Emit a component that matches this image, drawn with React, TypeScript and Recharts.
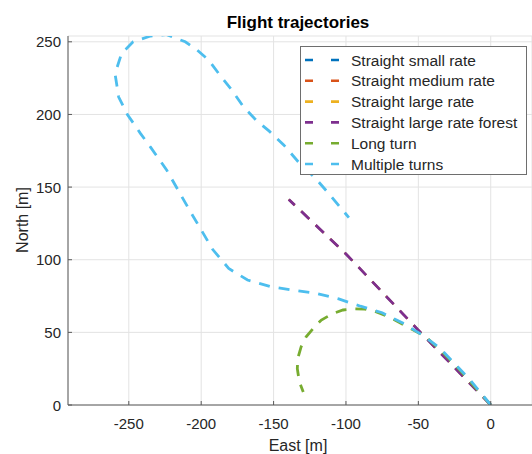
import React from "react";
import { LineChart, Line, XAxis, YAxis, CartesianGrid, Legend } from "recharts";

// East [m], North [m]
const straightSmall = [
  { x: 0, y: 0 },
  { x: -50, y: 51.5 },
  { x: -100, y: 104 },
  { x: -139.5, y: 141.5 },
];
const straightMedium = [
  { x: 0, y: 0 },
  { x: -50, y: 51.5 },
  { x: -100, y: 104 },
  { x: -139.5, y: 141.5 },
];
const straightLarge = [
  { x: 0, y: 0 },
  { x: -50, y: 51.5 },
  { x: -100, y: 104 },
  { x: -139.5, y: 141.5 },
];
const straightForest = [
  { x: 0, y: 0 },
  { x: -50, y: 51.5 },
  { x: -100, y: 104 },
  { x: -139.5, y: 141.5 },
];
const longTurn = [
  { x: 0, y: 0 },
  { x: -15, y: 17 },
  { x: -25, y: 28 },
  { x: -35, y: 38 },
  { x: -45, y: 47 },
  { x: -58, y: 54 },
  { x: -70, y: 60.5 },
  { x: -80, y: 64.5 },
  { x: -87, y: 66 },
  { x: -94, y: 66.2 },
  { x: -102, y: 65.4 },
  { x: -109, y: 63 },
  { x: -117, y: 58.5 },
  { x: -121.5, y: 54 },
  { x: -127.5, y: 47 },
  { x: -131, y: 40 },
  { x: -133.3, y: 32 },
  { x: -133.6, y: 25 },
  { x: -132.2, y: 16 },
  { x: -129.5, y: 9 },
];
const multipleTurns = [
  { x: 0, y: 0 },
  { x: -14, y: 17 },
  { x: -23.5, y: 27 },
  { x: -35, y: 39 },
  { x: -47, y: 48 },
  { x: -60, y: 56 },
  { x: -75, y: 63.5 },
  { x: -90, y: 68 },
  { x: -105, y: 73 },
  { x: -121, y: 77 },
  { x: -136, y: 79 },
  { x: -152, y: 81.5 },
  { x: -168, y: 86 },
  { x: -181, y: 94 },
  { x: -192, y: 107 },
  { x: -200, y: 120.5 },
  { x: -208, y: 134 },
  { x: -216, y: 148 },
  { x: -224, y: 162 },
  { x: -235, y: 177.5 },
  { x: -242, y: 187 },
  { x: -251, y: 200 },
  { x: -257, y: 212 },
  { x: -259.5, y: 228 },
  { x: -255, y: 242 },
  { x: -247, y: 250 },
  { x: -235, y: 254 },
  { x: -224, y: 255 },
  { x: -211, y: 250 },
  { x: -203, y: 244.5 },
  { x: -195, y: 237.5 },
  { x: -187, y: 227 },
  { x: -179, y: 217 },
  { x: -171, y: 205.5 },
  { x: -162, y: 196 },
  { x: -153, y: 188.5 },
  { x: -143, y: 179 },
  { x: -133, y: 167.5 },
  { x: -121, y: 156 },
  { x: -111, y: 144.5 },
  { x: -100.5, y: 132 },
  { x: -98, y: 129 },
];

const xTicks = [-250, -200, -150, -100, -50, 0];
const yTicks = [0, 50, 100, 150, 200, 250];

// hidden: true -> the run sits exactly under the forest run in the picture
const series = [
  { name: "Straight small rate", data: straightSmall, color: "#0072BD", hidden: true },
  { name: "Straight medium rate", data: straightMedium, color: "#D95319", hidden: true },
  { name: "Straight large rate", data: straightLarge, color: "#EDB120", hidden: true },
  { name: "Straight large rate forest", data: straightForest, color: "#7E2F8E", hidden: false },
  { name: "Long turn", data: longTurn, color: "#77AC30", hidden: false },
  { name: "Multiple turns", data: multipleTurns, color: "#4DBEEE", hidden: false },
];

const FONT = "'Liberation Sans', Arial, Helvetica, sans-serif";
const TEXT = "#262626";
const AXIS = "#5a5a5a";

function XTick({ x, y, payload }: any) {
  return (
    <g>
      <line x1={x} x2={x} y1={y} y2={y - 4} stroke={AXIS} />
      <text x={x} y={y + 24} textAnchor="middle" fontSize={15} fill={TEXT} fontFamily={FONT}>
        {payload.value}
      </text>
    </g>
  );
}

function YTick({ x, y, payload }: any) {
  return (
    <g>
      <line x1={x} x2={x + 4} y1={y} y2={y} stroke={AXIS} />
      <text x={x - 7} y={y + 5.5} textAnchor="end" fontSize={15} fill={TEXT} fontFamily={FONT}>
        {payload.value}
      </text>
    </g>
  );
}

function LegendBox() {
  return (
    <svg width={227} height={129} style={{ display: "block" }}>
      <rect x={0.5} y={0.5} width={226} height={128} fill="#fff" stroke="#6e6e6e" />
      {series.map((s, i) => {
        const cy = 14 + i * 20.8;
        return (
          <g key={s.name}>
            <line x1={5} x2={39} y1={cy} y2={cy} stroke={s.color} strokeWidth={2.6} strokeDasharray="8 18" />
            <text x={51} y={cy + 5.5} fontSize={15.5} fill={TEXT} fontFamily={FONT}>
              {s.name}
            </text>
          </g>
        );
      })}
    </svg>
  );
}

export default function App() {
  return (
    <div style={{ position: "absolute", left: 0, top: 0, width: 532, height: 454, background: "#fff" }}>
      <div
        style={{
          position: "absolute",
          left: 68,
          width: 460,
          top: 14,
          textAlign: "center",
          fontFamily: FONT,
          fontWeight: "bold",
          fontSize: 17,
          lineHeight: "17px",
          color: "#000",
        }}
      >
        Flight trajectories
      </div>
      <LineChart width={532} height={454} margin={{ top: 36, right: 0, bottom: 0, left: 0 }}>
        <CartesianGrid stroke="#e3e3e3" strokeWidth={1} />
        <XAxis
          type="number"
          dataKey="x"
          domain={[-292, 28.5]}
          ticks={xTicks}
          allowDataOverflow
          height={49}
          stroke={AXIS}
          tickLine={false}
          tickSize={0}
          tickMargin={0}
          tick={<XTick />}
          label={{
            content: () => (
              <text x={298} y={450.5} textAnchor="middle" fontSize={16} fill={TEXT} fontFamily={FONT}>
                East [m]
              </text>
            ),
          }}
        />
        <YAxis
          type="number"
          dataKey="y"
          domain={[0, 254]}
          ticks={yTicks}
          allowDataOverflow
          width={68}
          stroke={AXIS}
          tickLine={false}
          tickSize={0}
          tickMargin={0}
          tick={<YTick />}
          label={{
            content: () => (
              <text
                x={22}
                y={220}
                transform="rotate(-90 22 220)"
                textAnchor="middle"
                dominantBaseline="central"
                fontSize={16}
                fill={TEXT}
                fontFamily={FONT}
              >
                North [m]
              </text>
            ),
          }}
        />
        <Legend
          layout="horizontal"
          verticalAlign="middle"
          align="center"
          content={() => <LegendBox />}
          wrapperStyle={{ position: "absolute", left: 300, top: 46, width: 227, height: 129 }}
        />
        {series.map((s) => (
          <Line
            key={s.name}
            data={s.data}
            dataKey="y"
            name={s.name}
            type="linear"
            stroke={s.color}
            strokeWidth={s.hidden ? 2 : 2.8}
            strokeDasharray="11 9"
            dot={false}
            activeDot={false}
            isAnimationActive={false}
          />
        ))}
      </LineChart>
    </div>
  );
}
